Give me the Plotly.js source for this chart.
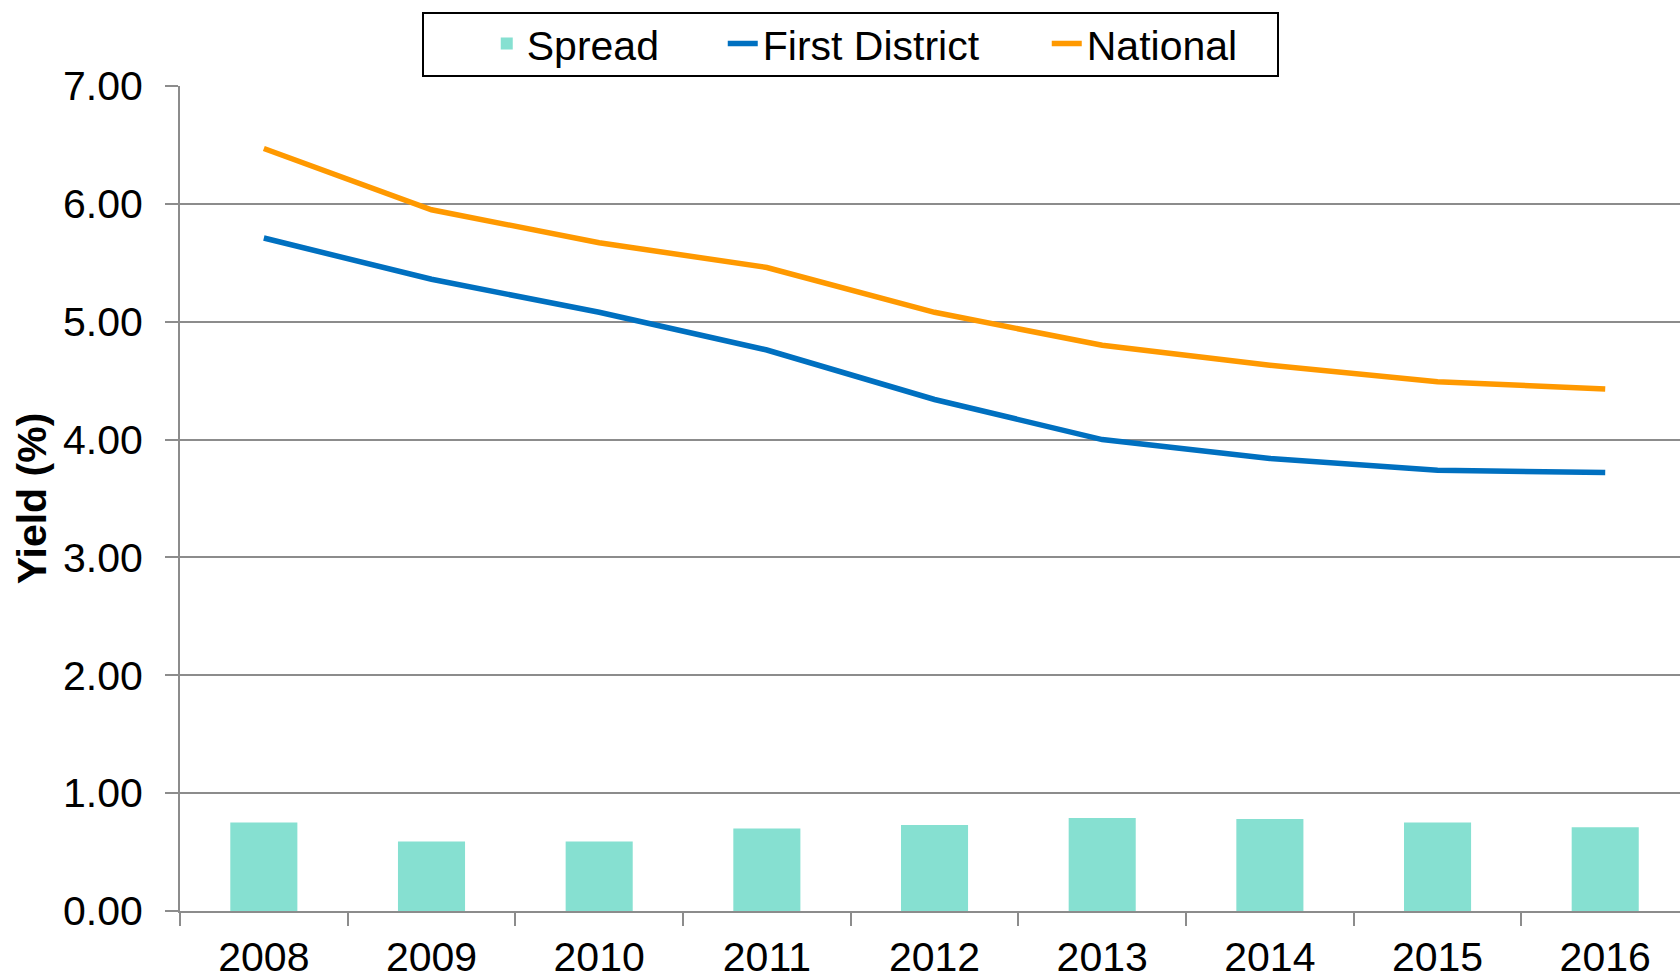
<!DOCTYPE html>
<html>
<head>
<meta charset="utf-8">
<script src="https://cdn.plot.ly/plotly-3.0.1.min.js"></script>
<style>html,body{margin:0;padding:0;background:#fff;}#chart{width:1680px;height:979px;}</style>
</head>
<body>
<div id="chart"></div>
<script>
var years = ["2008","2009","2010","2011","2012","2013","2014","2015","2016"];
var spread = [0.75, 0.59, 0.59, 0.70, 0.73, 0.79, 0.78, 0.75, 0.71];
var firstDistrict = [5.71, 5.36, 5.08, 4.76, 4.34, 4.00, 3.84, 3.74, 3.72];
var national = [6.47, 5.95, 5.67, 5.46, 5.08, 4.80, 4.63, 4.49, 4.43];
var yTicks = [0,1,2,3,4,5,6,7];
var yTickText = ["0.00","1.00","2.00","3.00","4.00","5.00","6.00","7.00"];

var font = "Liberation Sans, Arial, sans-serif";
var traces = [
  {type:"bar", name:"Spread", x:years, y:spread, marker:{color:"#86E0D1"}, width:0.4, legendwidth:191},
  {type:"scatter", mode:"lines", name:"First District", x:years, y:firstDistrict, line:{color:"#0070C0", width:5.5}, legendwidth:279},
  {type:"scatter", mode:"lines", name:"National", x:years, y:national, line:{color:"#FF9900", width:5.5}}
];
var layout = {
  width:1680, height:979,
  margin:{l:180, r:0, t:86, b:68, autoexpand:false},
  paper_bgcolor:"#fff", plot_bgcolor:"#fff",
  font:{family:font, size:41, color:"#000"},
  showlegend:true,
  legend:{orientation:"h", x:0.2045, xanchor:"left", xref:"paper", y:1.051, yanchor:"middle",
          borderwidth:0, bgcolor:"rgba(0,0,0,0)", font:{family:font, size:41, color:"#000"},
          traceorder:"normal"},
  shapes:[{type:"rect", xref:"paper", yref:"paper", x0:0.162, x1:0.732, y0:1.0121, y1:1.0885,
           line:{color:"#000", width:2}, fillcolor:"rgba(0,0,0,0)", layer:"below"}],
  xaxis:{type:"category", range:[-0.5, 8.446], tickson:"boundaries", ticks:"outside", ticklen:13, tickwidth:2,
         tickcolor:"#8c8c8c", showline:true, linecolor:"#8c8c8c", linewidth:2, showgrid:false,
         tickfont:{family:font, size:41, color:"#000"}, ticklabelstandoff:9, zeroline:false},
  yaxis:{range:[0,7], tickvals:yTicks, ticktext:yTickText, ticks:"outside", ticklen:13, tickwidth:2,
         tickcolor:"#8c8c8c", showline:true, linecolor:"#8c8c8c", linewidth:2, showgrid:true,
         gridcolor:"#8c8c8c", gridwidth:2, zeroline:false, ticklabelstandoff:14,
         tickfont:{family:font, size:41, color:"#000"},
         title:{text:"<b>Yield (%)</b>", font:{family:font, size:41, color:"#000"}, standoff:4}},
  bargap:0.6
};
Plotly.newPlot("chart", traces, layout, {displayModeBar:false, staticPlot:true});
</script>
</body>
</html>
